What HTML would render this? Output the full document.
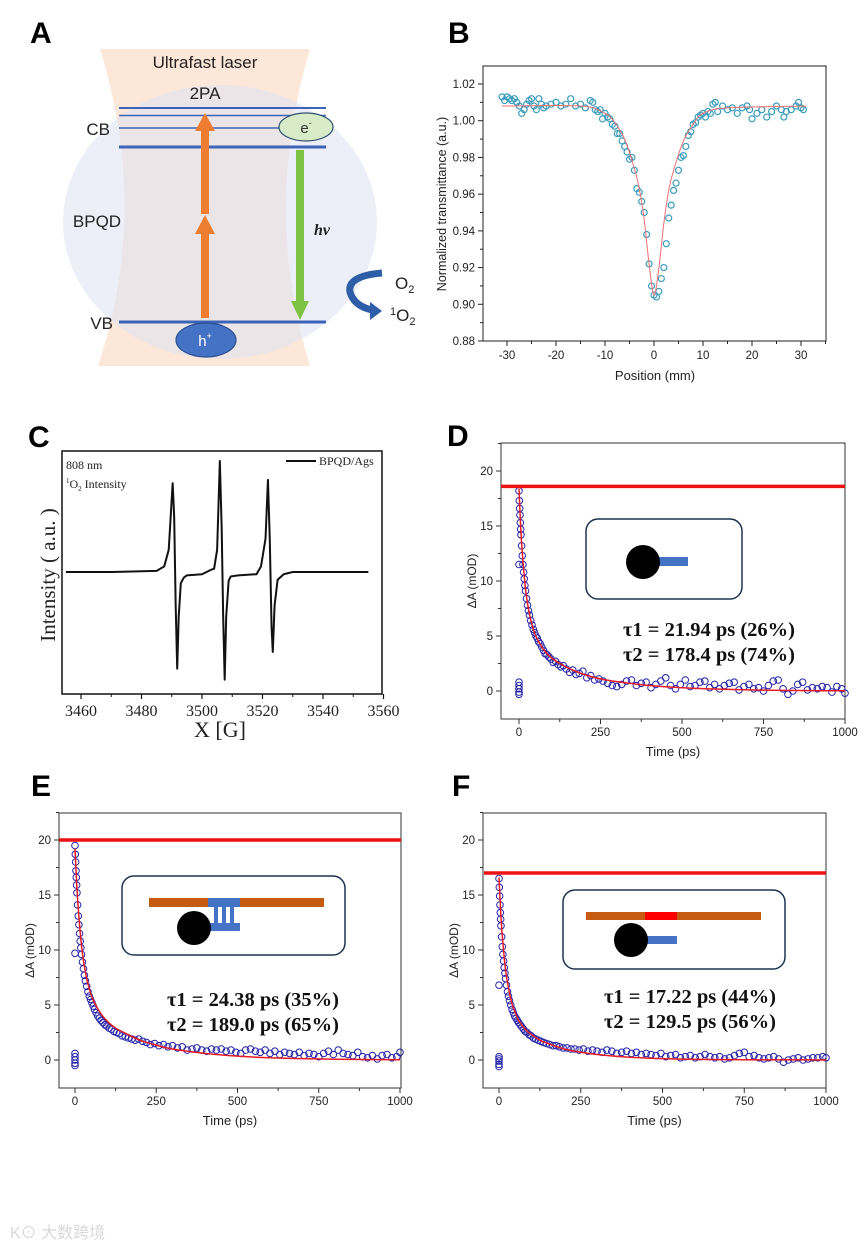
<!DOCTYPE html>
<html><head><meta charset="utf-8">
<style>
html,body{margin:0;padding:0;background:#fff;}
svg{display:block;font-family:"Liberation Sans",Arial,sans-serif;}
.serif{font-family:"Liberation Serif","Times New Roman",serif;}
</style></head>
<body>
<svg id="fig" width="865" height="1249" viewBox="0 0 865 1249" xmlns="http://www.w3.org/2000/svg">
<g id="panelA">
  <text x="30" y="43" font-size="30" font-weight="bold">A</text>
  <path d="M100,49 L310,49 Q262,210 310,366 L98,366 Q150,210 100,49 Z" fill="#fbe3d2" opacity="0.85"/>
  <ellipse cx="220" cy="222" rx="157" ry="137" fill="#dfe5f2" opacity="0.6"/>
  <text x="205" y="68" font-size="17" text-anchor="middle" fill="#222">Ultrafast laser</text>
  <text x="205" y="99" font-size="17" text-anchor="middle" fill="#222">2PA</text>
  <line x1="119" y1="108" x2="326" y2="108" stroke="#3c63b8" stroke-width="2"/>
  <line x1="119" y1="115.5" x2="326" y2="115.5" stroke="#3c63b8" stroke-width="1.5"/>
  <line x1="119" y1="128" x2="290" y2="128" stroke="#3c63b8" stroke-width="1.5"/>
  <line x1="119" y1="147" x2="326" y2="147" stroke="#3c63b8" stroke-width="3"/>
  <line x1="119" y1="322" x2="326" y2="322" stroke="#3c63b8" stroke-width="3"/>
  <text x="110" y="135" font-size="17" text-anchor="end" fill="#222">CB</text>
  <text x="97" y="227" font-size="17" text-anchor="middle" fill="#222">BPQD</text>
  <text x="113" y="329" font-size="17" text-anchor="end" fill="#222">VB</text>
  <rect x="201" y="130" width="8" height="84" fill="#ed7d31"/>
  <polygon points="195,131 215,131 205,113" fill="#ed7d31"/>
  <rect x="201" y="233" width="8" height="85" fill="#ed7d31"/>
  <polygon points="195,234 215,234 205,215" fill="#ed7d31"/>
  <rect x="296" y="150" width="8" height="152" fill="#7dc242"/>
  <polygon points="291,301 309,301 300,320" fill="#7dc242"/>
  <text x="322" y="235" font-size="16" font-style="italic" font-weight="bold" class="serif" text-anchor="middle" fill="#222">hv</text>
  <ellipse cx="306" cy="127" rx="27" ry="14" fill="#d7ebc8" stroke="#2f4f6f" stroke-width="1.2"/>
  <text x="306" y="133" font-size="15" text-anchor="middle" fill="#333">e<tspan font-size="9" dy="-7">-</tspan></text>
  <ellipse cx="206" cy="340" rx="30" ry="17" fill="#4472c4" stroke="#2f4f8f" stroke-width="1.2"/>
  <text x="205" y="346" font-size="15" text-anchor="middle" fill="#fff">h<tspan font-size="9" dy="-7">+</tspan></text>
  <path d="M382,273 Q347,276 350,292 Q354,306 372,310" fill="none" stroke="#2e5ea8" stroke-width="7"/>
  <polygon points="370,302 370,320 382,311" fill="#2e5ea8"/>
  <text x="395" y="289" font-size="17" fill="#222">O<tspan font-size="11" dy="4">2</tspan></text>
  <text x="390" y="321" font-size="17" fill="#222"><tspan font-size="11" dy="-6">1</tspan><tspan dy="6">O</tspan><tspan font-size="11" dy="4">2</tspan></text>
</g>
<g id="panelB"></g>
<g id="panelC"></g>
<g id="panelD"></g>
<g id="panelE"></g>
<g id="panelF"></g>
<text x="10" y="1238" font-size="16" fill="#d8d8d8" font-family="'Liberation Sans','Noto Sans CJK SC',sans-serif">K⊙ 大数跨境</text>
</svg>
<script>
const bX = [-31,-30.5,-30,-29.5,-29,-28.5,-28,-27.5,-27,-26.5,-26,-25.5,-25,-24.5,-24,-23.5,-23,-22.5,-22,-21,-20,-19,-18,-17,-16,-15,-14,-13,-12.5,-12,-11.5,-11,-10.5,-10,-9.5,-9,-8.5,-8,-7.5,-7,-6.5,-6,-5.5,-5,-4.5,-4,-3.5,-3,-2.5,-2,-1.5,-1,-0.5,0,0.5,1,1.5,2,2.5,3,3.5,4,4.5,5,5.5,6,6.5,7,7.5,8,8.5,9,9.5,10,10.5,11,11.5,12,12.5,13,14,15,16,17,18,19,19.5,20,21,22,23,24,25,26,26.5,27,28,29,29.5,30,30.5];
const bY = [1.013,1.011,1.013,1.012,1.011,1.012,1.010,1.008,1.004,1.006,1.009,1.011,1.012,1.008,1.006,1.012,1.009,1.007,1.008,1.009,1.010,1.008,1.009,1.012,1.008,1.009,1.007,1.011,1.010,1.006,1.005,1.006,1.001,1.004,1.002,1.001,0.998,0.997,0.993,0.993,0.989,0.986,0.983,0.979,0.980,0.973,0.963,0.961,0.956,0.950,0.938,0.922,0.910,0.905,0.904,0.907,0.914,0.920,0.933,0.947,0.954,0.962,0.966,0.973,0.980,0.981,0.986,0.992,0.994,0.998,0.999,1.002,1.003,1.004,1.002,1.005,1.004,1.009,1.010,1.005,1.008,1.006,1.007,1.004,1.007,1.008,1.006,1.001,1.004,1.006,1.002,1.005,1.008,1.006,1.002,1.005,1.006,1.008,1.010,1.007,1.006];
const bFitX = [-31,-15,-10,-8,-6,-4,-3,-2,-1,0,1,2,3,4,6,8,10,15,31];
const bFitY = [1.008,1.008,1.004,0.999,0.990,0.974,0.963,0.946,0.922,0.905,0.920,0.944,0.962,0.973,0.989,0.998,1.004,1.007,1.008];
const bXTicks = [-30,-20,-10,0,10,20,30];
const bYTicks = [0.88,0.90,0.92,0.94,0.96,0.98,1.00,1.02];
const cX = [3455,3470,3485,3487.5,3489,3490.3,3490.8,3491.3,3491.8,3492.3,3493,3494,3495,3500,3503,3504,3505,3505.9,3506.5,3507,3507.5,3508,3508.8,3509.5,3512,3518,3519.5,3521,3521.8,3522.4,3523,3523.4,3524,3525,3527,3530,3555];
const cY = [0,0,0.01,0.05,0.2,0.8,0.5,-0.3,-0.87,-0.4,-0.1,-0.05,-0.03,-0.02,0.02,0.03,0.2,1.0,0.4,-0.4,-0.97,-0.4,-0.08,-0.04,-0.03,-0.02,0.05,0.3,0.83,0.3,-0.5,-0.72,-0.3,-0.07,-0.02,0,0];
const cXTicks = [3460,3480,3500,3520,3540,3560];
const tT = [0,1,2,3,4,5,6,8,10,12,14,16,18,20,23,26,29,32,36,40,44,48,52,56,60,65,70,75,80,86,92,98,105,112,120,128,136,145,155,165,175,185,196,208,220,232,245,258,272,286,300,315,330,345,360,375,390,405,420,435,450,465,480,495,510,525,540,555,570,585,600,615,630,645,660,675,690,705,720,735,750,765,780,795,810,825,840,855,870,885,900,915,930,945,960,975,990,1000];
const tStray = [0,0,0,0,0,0];
const dY = [18.2,17.3,16.6,16.0,15.3,14.7,14.2,13.2,12.3,11.5,10.8,10.2,9.6,9.1,8.4,7.8,7.3,6.9,6.4,6.0,5.6,5.3,5.0,4.8,4.5,4.3,4.0,3.7,3.4,3.3,3.1,2.9,2.6,2.7,2.4,2.2,2.3,2.0,1.7,1.9,1.5,1.6,1.8,1.2,1.4,1.0,1.1,0.9,0.7,0.5,0.4,0.6,0.9,1.0,0.5,0.7,0.8,0.3,0.6,0.9,1.2,0.5,0.2,0.6,1.0,0.4,0.5,0.8,0.9,0.3,0.6,0.2,0.5,0.7,0.8,0.1,0.4,0.6,0.2,0.3,0.0,0.5,0.9,1.0,0.2,-0.3,0.0,0.6,0.8,0.1,0.3,0.2,0.4,0.3,-0.1,0.4,0.2,-0.2];
const dStrayY = [0.8,0.5,0.2,-0.1,-0.3,11.5];
const dFitT = [0,5,10,20,30,40,50,60,80,100,125,150,200,250,300,400,500,600,700,800,900,1000];
const dFitY = [18.4,15.0,12.6,9.3,7.3,6.0,5.1,4.5,3.6,3.0,2.5,2.1,1.5,1.1,0.85,0.5,0.3,0.18,0.1,0.06,0.03,0.02];
const dLine = 18.6;
const eY = [19.5,18.7,18.0,17.2,16.6,15.9,15.2,14.1,13.1,12.3,11.5,10.8,10.2,9.6,8.9,8.3,7.7,7.2,6.7,6.2,5.8,5.5,5.2,4.9,4.6,4.3,4.0,3.8,3.6,3.4,3.2,3.1,2.9,2.8,2.6,2.5,2.4,2.2,2.1,2.0,1.9,1.8,1.9,1.7,1.6,1.4,1.5,1.3,1.4,1.2,1.3,1.1,1.2,0.9,1.0,1.1,0.9,0.8,1.0,0.9,1.0,0.8,0.9,0.7,0.6,0.9,1.0,0.8,0.7,0.9,0.6,0.8,0.5,0.7,0.6,0.5,0.7,0.4,0.6,0.5,0.3,0.6,0.8,0.5,0.9,0.6,0.5,0.4,0.7,0.3,0.2,0.4,0.1,0.4,0.5,0.2,0.3,0.7];
const eStrayY = [0.6,0.3,0.0,-0.3,-0.5,9.7];
const eFitY = [19.2,16.2,13.8,10.4,8.3,6.9,5.9,5.2,4.2,3.5,2.9,2.5,1.8,1.35,1.0,0.6,0.35,0.2,0.12,0.07,0.04,0.02];
const eLine = 20.0;
const fY = [16.5,15.7,14.9,14.1,13.4,12.8,12.2,11.2,10.3,9.6,9.0,8.4,7.9,7.4,6.8,6.2,5.8,5.4,5.0,4.6,4.3,4.0,3.8,3.6,3.4,3.2,3.0,2.8,2.6,2.5,2.3,2.2,2.0,1.9,1.8,1.7,1.6,1.5,1.4,1.3,1.3,1.2,1.1,1.1,1.0,1.0,0.9,1.0,0.8,0.9,0.8,0.7,0.9,0.8,0.6,0.7,0.8,0.6,0.7,0.5,0.6,0.5,0.4,0.6,0.3,0.4,0.5,0.2,0.3,0.4,0.2,0.3,0.5,0.3,0.2,0.3,0.1,0.2,0.4,0.6,0.7,0.3,0.4,0.2,0.1,0.2,0.3,0.1,-0.2,0.0,0.1,0.2,0.0,0.1,0.2,0.2,0.3,0.2];
const fStrayY = [0.3,0.1,-0.1,-0.4,-0.6,6.8];
const fFitY = [16.6,13.6,11.3,8.2,6.4,5.1,4.3,3.6,2.8,2.3,1.8,1.5,1.0,0.7,0.5,0.25,0.12,0.06,0.03,0.015,0.01,0.005];
const fLine = 17.0;
const tXTicks = [0,250,500,750,1000];
const tYTicks = [0,5,10,15,20];

const NS = 'http://www.w3.org/2000/svg';
function mk(parent, tag, attrs, text) {
  const el = document.createElementNS(NS, tag);
  for (const k in attrs) el.setAttribute(k, attrs[k]);
  if (text !== undefined) el.textContent = text;
  parent.appendChild(el);
  return el;
}
function lin(d0, d1, r0, r1) { return v => r0 + (v - d0) * (r1 - r0) / (d1 - d0); }
function smoothPath(pts) {
  let d = 'M' + pts[0][0] + ',' + pts[0][1];
  for (let i = 0; i < pts.length - 1; i++) {
    const p0 = pts[i - 1] || pts[i], p1 = pts[i], p2 = pts[i + 1], p3 = pts[i + 2] || p2;
    const c1x = p1[0] + (p2[0] - p0[0]) / 6, c1y = p1[1] + (p2[1] - p0[1]) / 6;
    const c2x = p2[0] - (p3[0] - p1[0]) / 6, c2y = p2[1] - (p3[1] - p1[1]) / 6;
    d += ' C' + c1x + ',' + c1y + ' ' + c2x + ',' + c2y + ' ' + p2[0] + ',' + p2[1];
  }
  return d;
}

(function () {
  const g = document.getElementById('panelB');
  const L = 483, R = 826, T = 66, B = 341;
  const x = lin(-30, 30, 507, 801), y = lin(0.88, 1.02, 341, 84);
  const lab = mk(g, 'text', { x: 448, y: 43, 'font-size': 30, 'font-weight': 'bold' }, 'B');
  
  
  const fr = mk(g, 'rect', { x: L, y: T, width: R - L, height: B - T, fill: 'none', stroke: '#222', 'stroke-width': 1 });
  
  
  bXTicks.forEach(v => {
    const t = mk(g, 'line', { x1: x(v), x2: x(v), y1: B, y2: B + 5, stroke: '#222' });
    
    
    const m = mk(g, 'line', { x1: x(v + 5), x2: x(v + 5), y1: B, y2: B + 3, stroke: '#222' });
    
    
    const tl = mk(g, 'text', { x: x(v), y: B + 18, 'font-size': 11.5, 'text-anchor': 'middle', fill: '#222' }, String(v));
    
    
  });
  bYTicks.forEach(v => {
    const t = mk(g, 'line', { x1: L - 5, x2: L, y1: y(v), y2: y(v), stroke: '#222' });
    
    
    if (v < 1.02) {
      const m = mk(g, 'line', { x1: L - 3, x2: L, y1: y(v + 0.01), y2: y(v + 0.01), stroke: '#222' });
      
      
    }
    const tl = mk(g, 'text', { x: L - 8, y: y(v) + 4, 'font-size': 11.5, 'text-anchor': 'end', fill: '#222' }, v.toFixed(2));
    
    
  });
  const yt = mk(g, 'text', { x: 0, y: 0, 'font-size': 12.5, 'text-anchor': 'middle', fill: '#222', transform: 'translate(446,204) rotate(-90)' }, 'Normalized transmittance (a.u.)');
  
  
  const xt = mk(g, 'text', { x: 655, y: 380, 'font-size': 13, 'text-anchor': 'middle', fill: '#222' }, 'Position (mm)');
  
  
  bX.forEach((v, i) => {
    const c = mk(g, 'circle', { cx: x(v), cy: y(bY[i]), r: 3, fill: 'none', stroke: '#3a9cbc', 'stroke-width': 1.2 });
    
    
  });
  const fit = mk(g, 'path', { d: smoothPath(bFitX.map((v, i) => [x(v), y(bFitY[i])])), fill: 'none', stroke: '#f07070', 'stroke-width': 1 });
  
  
})();

(function () {
  const g = document.getElementById('panelC');
  const L = 62, R = 382, T = 451, B = 694;
  const x = lin(3460, 3560, 81, 383.5), y = lin(0, 1, 572, 461);
  const lab = mk(g, 'text', { x: 28, y: 447, 'font-size': 30, 'font-weight': 'bold' }, 'C');
  
  
  const fr = mk(g, 'rect', { x: L, y: T, width: R - L, height: B - T, fill: 'none', stroke: '#111', 'stroke-width': 1.5 });
  
  
  cXTicks.forEach(v => {
    const t = mk(g, 'line', { x1: x(v), x2: x(v), y1: B, y2: B + 5, stroke: '#111', 'stroke-width': 1.2 });
    
    
    if (v < 3560) {
      const m = mk(g, 'line', { x1: x(v + 10), x2: x(v + 10), y1: B, y2: B + 3, stroke: '#111' });
      
      
    }
    const tl = mk(g, 'text', { x: x(v), y: B + 22, 'font-size': 16, 'text-anchor': 'middle', fill: '#222', class: 'serif' }, String(v));
    
    
  });
  const yt = mk(g, 'text', { x: 0, y: 0, 'font-size': 21, 'text-anchor': 'middle', fill: '#222', class: 'serif', transform: 'translate(55,575) rotate(-90)' }, 'Intensity ( a.u. )');
  
  
  const xt = mk(g, 'text', { x: 220, y: 737, 'font-size': 22, 'text-anchor': 'middle', fill: '#222', class: 'serif' }, 'X [G]');
  
  
  const a1 = mk(g, 'text', { x: 66, y: 469, 'font-size': 12, fill: '#222', class: 'serif' }, '808 nm');
  
  
  const a2 = mk(g, 'text', { x: 66, y: 488, 'font-size': 12, fill: '#222', class: 'serif' });
  
  
  a2.innerHTML = '<tspan font-size="7" dy="-5">1</tspan><tspan dy="5">O</tspan><tspan font-size="7" dy="3">2</tspan><tspan dy="-3"> Intensity</tspan>';
  const ll = mk(g, 'line', { x1: 286, x2: 316, y1: 461, y2: 461, stroke: '#111', 'stroke-width': 2 });
  
  
  const lt = mk(g, 'text', { x: 319, y: 465, 'font-size': 12, fill: '#222', class: 'serif' }, 'BPQD/Ags');
  
  
  const sp = mk(g, 'polyline', { points: cX.map((v, i) => x(v) + ',' + y(cY[i])).join(' '), fill: 'none', stroke: '#111', 'stroke-width': 2, 'stroke-linejoin': 'round' });
  
  
})();

function decayPanel(cfg) {
  const g = document.getElementById(cfg.id);
  const x = lin(0, 1000, cfg.x0, cfg.x1), y = lin(0, 20, cfg.y0, cfg.y20);
  const L = cfg.L, R = cfg.R, T = cfg.T, B = cfg.B;
  const lab = mk(g, 'text', { x: cfg.lx, y: cfg.ly, 'font-size': 30, 'font-weight': 'bold' }, cfg.label);
  
  
  const fr = mk(g, 'rect', { x: L, y: T, width: R - L, height: B - T, fill: 'none', stroke: '#333', 'stroke-width': 1 });
  
  
  tXTicks.forEach(v => {
    const t = mk(g, 'line', { x1: x(v), x2: x(v), y1: B, y2: B + 5, stroke: '#333' });
    
    
    if (v < 1000) {
      const m = mk(g, 'line', { x1: x(v + 125), x2: x(v + 125), y1: B, y2: B + 3, stroke: '#333' });
      
      
    }
    const tl = mk(g, 'text', { x: x(v), y: B + 17, 'font-size': 11.5, 'text-anchor': 'middle', fill: '#222' }, String(v));
    
    
  });
  tYTicks.forEach(v => {
    const t = mk(g, 'line', { x1: L - 5, x2: L, y1: y(v), y2: y(v), stroke: '#333' });
    
    
    const m = mk(g, 'line', { x1: L - 3, x2: L, y1: y(v + 2.5), y2: y(v + 2.5), stroke: '#333' });
    
    
    const tl = mk(g, 'text', { x: L - 8, y: y(v) + 4, 'font-size': 11.5, 'text-anchor': 'end', fill: '#222' }, String(v));
    
    
  });
  const yt = mk(g, 'text', { x: 0, y: 0, 'font-size': 12, 'text-anchor': 'middle', fill: '#222', transform: 'translate(' + (L - 25) + ',' + ((T + B) / 2) + ') rotate(-90)' }, 'ΔA (mOD)');
  
  
  const xt = mk(g, 'text', { x: (L + R) / 2, y: B + 37, 'font-size': 13, 'text-anchor': 'middle', fill: '#222' }, 'Time (ps)');
  
  
  const box = mk(g, 'rect', { x: cfg.box[0], y: cfg.box[1], width: cfg.box[2], height: cfg.box[3], rx: 12, fill: '#fff', stroke: '#1f3350', 'stroke-width': 1.5 });
  
  
  cfg.shapes.forEach(s => {
    const el = mk(g, s[0], s[1]);
    
    
  });
  tT.forEach((t, i) => {
    const c = mk(g, 'circle', { cx: x(t), cy: y(cfg.vals[i]), r: 3.3, fill: 'none', stroke: '#2323a8', 'stroke-width': 1 });
    
    
  });
  tStray.forEach((t, i) => {
    const c = mk(g, 'circle', { cx: x(t), cy: y(cfg.stray[i]), r: 3.3, fill: 'none', stroke: '#2323a8', 'stroke-width': 1 });
    
    
  });
  const fit = mk(g, 'path', { d: smoothPath(dFitT.map((t, i) => [x(t), y(cfg.fit[i])])), fill: 'none', stroke: '#e51c23', 'stroke-width': 1.5 });
  
  
  const hl = mk(g, 'line', { x1: cfg.lineX0, x2: R, y1: y(cfg.line), y2: y(cfg.line), stroke: '#ee1111', 'stroke-width': 3.5 });
  
  
  const t1 = mk(g, 'text', { x: cfg.tx, y: cfg.ty, 'font-size': 20.5, 'font-weight': 'bold', 'text-anchor': 'middle', fill: '#111', class: 'serif' }, cfg.tau1);
  
  
  const t2 = mk(g, 'text', { x: cfg.tx, y: cfg.ty + 25, 'font-size': 20.5, 'font-weight': 'bold', 'text-anchor': 'middle', fill: '#111', class: 'serif' }, cfg.tau2);
  
  
}
decayPanel({ id: 'panelD', label: 'D', lx: 447, ly: 446, L: 501, R: 845, T: 443, B: 719, x0: 519, x1: 845, y0: 691, y20: 471,
  vals: dY, stray: dStrayY, fit: dFitY, line: dLine, lineX0: 501,
  box: [586, 519, 156, 80],
  shapes: [['rect', { x: 657, y: 557, width: 31, height: 9, fill: '#4472c4' }, 'dna-strand'], ['circle', { cx: 643, cy: 562, r: 17, fill: '#000' }, 'quantum-dot']],
  tx: 709, ty: 636, tau1: 'τ1 = 21.94 ps (26%)', tau2: 'τ2 = 178.4 ps (74%)' });
decayPanel({ id: 'panelE', label: 'E', lx: 31, ly: 796, L: 59, R: 401, T: 813, B: 1088, x0: 75, x1: 400, y0: 1060, y20: 840,
  vals: eY, stray: eStrayY, fit: eFitY, line: eLine, lineX0: 59,
  box: [122, 876, 223, 79],
  shapes: [['rect', { x: 149, y: 898, width: 175, height: 9, fill: '#c55a11' }, 'target-strand'], ['rect', { x: 208, y: 898, width: 32, height: 9, fill: '#4472c4' }, 'hybrid-region'], ['rect', { x: 214, y: 907, width: 4, height: 17, fill: '#4472c4' }, 'base-pair'], ['rect', { x: 222, y: 907, width: 4, height: 17, fill: '#4472c4' }, 'base-pair'], ['rect', { x: 230, y: 907, width: 4, height: 17, fill: '#4472c4' }, 'base-pair'], ['rect', { x: 208, y: 923, width: 32, height: 8, fill: '#4472c4' }, 'probe-strand'], ['circle', { cx: 194, cy: 928, r: 17, fill: '#000' }, 'quantum-dot']],
  tx: 253, ty: 1006, tau1: 'τ1 = 24.38 ps (35%)', tau2: 'τ2 = 189.0 ps (65%)' });
decayPanel({ id: 'panelF', label: 'F', lx: 452, ly: 796, L: 483, R: 826, T: 813, B: 1088, x0: 499, x1: 826, y0: 1060, y20: 840,
  vals: fY, stray: fStrayY, fit: fFitY, line: fLine, lineX0: 484,
  box: [563, 890, 222, 79],
  shapes: [['rect', { x: 586, y: 912, width: 175, height: 8, fill: '#c55a11' }, 'target-strand'], ['rect', { x: 645, y: 912, width: 32, height: 8, fill: '#ff0000' }, 'mismatch-region'], ['rect', { x: 645, y: 936, width: 32, height: 8, fill: '#4472c4' }, 'probe-strand'], ['circle', { cx: 631, cy: 940, r: 17, fill: '#000' }, 'quantum-dot']],
  tx: 690, ty: 1003, tau1: 'τ1 = 17.22 ps (44%)', tau2: 'τ2 = 129.5 ps (56%)' });
</script>
</body></html>
